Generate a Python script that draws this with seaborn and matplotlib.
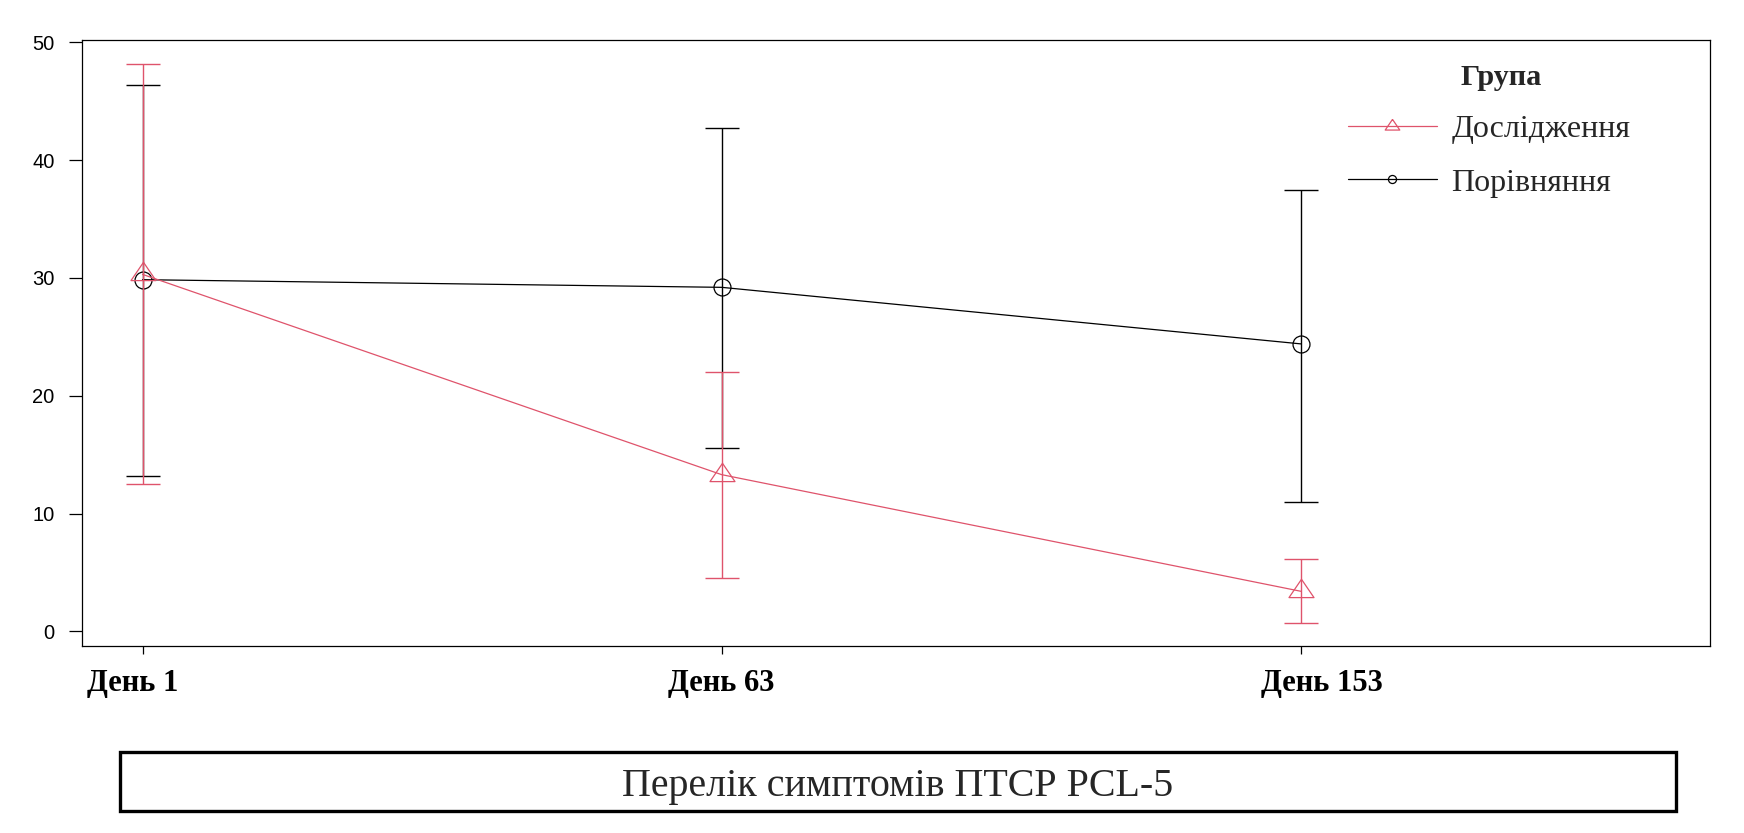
import numpy as np
import seaborn as sns
import matplotlib.pyplot as plt
from matplotlib.lines import Line2D
from matplotlib.patches import Rectangle
from matplotlib.transforms import ScaledTranslation

# values
days = ['День 1', 'День 63', 'День 153']
groups = ['Дослідження', 'Порівняння']
study_mean = [30.3, 13.3, 3.4]
study_low = [12.5, 4.5, 0.7]
study_high = [48.2, 22.0, 6.1]
comp_mean = [29.85, 29.2, 24.4]
comp_low = [13.2, 15.6, 11.0]
comp_high = [46.4, 42.7, 37.5]
y_ticks = [0, 10, 20, 30, 40, 50]
legend_title = 'Група'
box_title = 'Перелік симптомів ПТСР PCL-5'

RED = '#DF536B'
BLACK = 'black'
SERIF = ['Liberation Serif', 'DejaVu Serif']
SANS = ['Liberation Sans', 'DejaVu Sans']
# the day labels in the original are not quite centred on their ticks (pixels)
label_shift = [-10, 0, 21]

# R style triangle (pch 2), point at the centroid
tri = [(0, 0.976), (-1, -0.488), (1, -0.488), (0, 0.976)]

sns.set_style('white')
plt.rcParams['font.family'] = SANS

fig = plt.figure(figsize=(17.44, 8.33), dpi=100)
ax = fig.add_axes([0.04685, 0.22413, 0.93383, 0.7275])


def draw_group(means, low, high, color, marker, msize):
    means = np.array(means)
    yerr = [means - np.array(low), np.array(high) - means]
    sns.lineplot(x=days, y=means, color=color, marker=marker, markersize=msize,
                 markerfacecolor='none', markeredgecolor=color, markeredgewidth=0.9,
                 linewidth=0.9, sort=False, ax=ax, legend=False)
    ax.errorbar(days, means, yerr=yerr, fmt='none', ecolor=color,
                elinewidth=1.0, capsize=11.9, capthick=1.0)


draw_group(comp_mean, comp_low, comp_high, BLACK, 'o', 12.2)
draw_group(study_mean, study_low, study_high, RED, tri, 18)

ax.set_xlim(-0.105, 2.707)
ax.set_ylim(-1.27, 50.17)
ax.set_yticks(y_ticks)
ax.set_xlabel('')
ax.set_ylabel('')

for sp in ax.spines.values():
    sp.set_visible(True)
    sp.set_color('black')
    sp.set_linewidth(0.9)

ax.tick_params(axis='y', which='major', left=True, length=9.1, width=0.9,
               pad=10.5, labelsize=14.5, colors='black')
ax.tick_params(axis='x', which='major', bottom=True, length=5.8, width=0.9,
               pad=10.6, colors='black')
for lab, dx in zip(ax.get_xticklabels(), label_shift):
    lab.set_fontfamily(SERIF)
    lab.set_fontweight('bold')
    lab.set_fontsize(22)
    lab.set_transform(lab.get_transform() + ScaledTranslation(dx / 100, 0, fig.dpi_scale_trans))

handles = [
    Line2D([], [], color=RED, marker=tri, markersize=10.5, markerfacecolor='none',
           markeredgewidth=0.9, linewidth=0.9),
    Line2D([], [], color=BLACK, marker='o', markersize=5.8, markerfacecolor='none',
           markeredgewidth=0.9, linewidth=0.9),
]
leg = ax.legend(handles, groups, title=legend_title, loc='upper left',
                bbox_to_anchor=(0.7773, 0.961), frameon=False, borderpad=0,
                borderaxespad=0, handlelength=2.8, handletextpad=0.45,
                labelspacing=0.75, prop={'family': SERIF, 'size': 23},
                title_fontproperties={'family': SERIF, 'size': 21.8, 'weight': 'bold'})
# the legend title sits a little right of centre in the original
title_txt = leg.get_title()
title_txt.set_transform(title_txt.get_transform() + ScaledTranslation(0.12, 0, fig.dpi_scale_trans))

# boxed caption under the chart
fig.patches.append(Rectangle((0.0688, 0.02677), 0.8920, 0.07047, transform=fig.transFigure,
                             fill=False, edgecolor='black', linewidth=2.4))
fig.text(0.5149, 0.0444, box_title, ha='center', va='baseline',
         family=SERIF, fontsize=28.8)

fig.savefig('out.png', dpi=100)
plt.close(fig)
